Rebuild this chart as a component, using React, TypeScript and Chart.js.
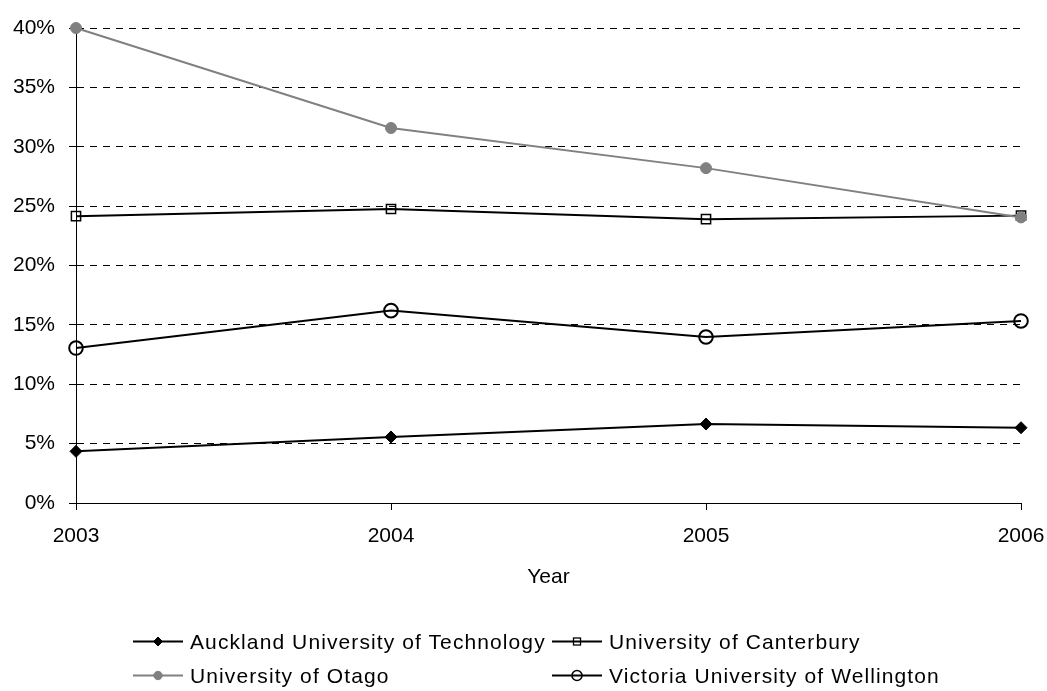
import React, { useEffect, useRef } from 'react';
import { Chart, registerables } from 'chart.js';

Chart.register(...registerables);

const years = ['2003', '2004', '2005', '2006'];
const seriesNames = [
  'Auckland University of Technology',
  'University of Canterbury',
  'University of Otago',
  'Victoria University of Wellington',
];
const aut = [4.35, 5.56, 6.65, 6.34];
const canterbury = [24.15, 24.76, 23.9, 24.2];
const otago = [40, 31.58, 28.2, 24.05];
const victoria = [13.05, 16.2, 13.98, 15.33];
const yMin = 0;
const yMax = 40;
const yStep = 5;
const xTitle = 'Year';

const FONT = '"Liberation Sans", Arial, sans-serif';
const NONE = 'rgba(0,0,0,0)';

type Style = { color: string; point: string; radius: number; fill: string; border: number; order: number };
const styles: Style[] = [
  { color: '#000000', point: 'rectRot', radius: 6, fill: '#000000', border: 1, order: 0 },
  { color: '#000000', point: 'rect', radius: 6.5, fill: NONE, border: 1.5, order: 2 },
  { color: '#808080', point: 'circle', radius: 5.5, fill: '#808080', border: 1, order: 1 },
  { color: '#000000', point: 'circle', radius: 6.8, fill: NONE, border: 2, order: 3 },
];
const seriesData = [aut, canterbury, otago, victoria];

const legendPos = [
  { left: 133, top: 629 },
  { left: 552, top: 629 },
  { left: 133, top: 663 },
  { left: 552, top: 663 },
];

function Marker({ s }: { s: Style }) {
  const cx = 25;
  const cy = 12.5;
  let shape: React.ReactNode = null;
  if (s.point === 'rectRot') {
    const r = 4.5;
    shape = <polygon points={`${cx - r},${cy} ${cx},${cy - r} ${cx + r},${cy} ${cx},${cy + r}`} fill={s.fill} stroke={s.color} strokeWidth={1} />;
  } else if (s.point === 'rect') {
    shape = <rect x={cx - 3.5} y={cy - 3.5} width={7} height={7} fill="none" stroke={s.color} strokeWidth={1.3} />;
  } else if (s.fill === NONE) {
    shape = <circle cx={cx} cy={cy} r={5} fill="none" stroke={s.color} strokeWidth={1.5} />;
  } else {
    shape = <circle cx={cx} cy={cy} r={4.2} fill={s.fill} stroke={s.color} strokeWidth={1} />;
  }
  return (
    <svg width={50} height={25} style={{ display: 'block' }}>
      <line x1={0} y1={cy} x2={50} y2={cy} stroke={s.color} strokeWidth={2} />
      {shape}
    </svg>
  );
}

export default function App() {
  const ref = useRef<HTMLCanvasElement | null>(null);
  useEffect(() => {
    document.body.style.margin = '0';
    const canvas = ref.current;
    if (!canvas) return;
    const chart = new Chart(canvas, {
      type: 'line',
      data: {
        labels: years,
        datasets: seriesNames.map((name, i) => ({
          label: name,
          data: seriesData[i],
          order: styles[i].order,
          borderColor: styles[i].color,
          backgroundColor: styles[i].fill,
          borderWidth: 2,
          pointStyle: styles[i].point as any,
          pointRadius: styles[i].radius,
          pointBackgroundColor: styles[i].fill,
          pointBorderColor: styles[i].color,
          pointBorderWidth: styles[i].border,
          tension: 0,
          fill: false,
          clip: false as any,
        })),
      },
      options: {
        animation: false,
        responsive: false,
        maintainAspectRatio: false,
        events: [],
        layout: { padding: { top: 28, right: 0, bottom: 88, left: 0 } },
        plugins: { legend: { display: false }, tooltip: { enabled: false }, title: { display: false } },
        scales: {
          x: {
            type: 'category',
            offset: false,
            grid: { drawOnChartArea: false, drawTicks: true, tickLength: 7, color: '#000', lineWidth: 1 },
            border: { display: true, color: '#000', width: 1 },
            ticks: { color: '#000', font: { family: FONT, size: 21 }, padding: 14, maxRotation: 0, autoSkip: false },
            title: { display: true, text: xTitle, color: '#000', font: { family: FONT, size: 21 }, padding: { top: 0, bottom: 13 } },
            afterFit: (scale: any) => {
              scale.height = 100;
              scale.paddingRight = 26;
              scale.paddingLeft = 24;
            },
          },
          y: {
            min: yMin,
            max: yMax,
            grid: { color: '#000', lineWidth: 1, tickLength: 7, drawTicks: true, tickBorderDash: [] },
            border: { display: true, color: '#000', width: 1, dash: [7, 6] },
            ticks: {
              stepSize: yStep,
              color: '#000',
              font: { family: FONT, size: 21 },
              padding: 14,
              callback: (v: any) => `${v}%`,
            },
            afterFit: (scale: any) => { scale.width = 76; },
          },
        },
      },
    });
    return () => chart.destroy();
  }, []);

  return (
    <div style={{ position: 'relative', width: 1047, height: 691, background: '#fff', fontFamily: FONT }}>
      <canvas ref={ref} width={1047} height={691} style={{ position: 'absolute', left: 0, top: 0, width: 1047, height: 691 }} />
      {seriesNames.map((name, i) => (
        <div
          key={name}
          style={{
            position: 'absolute',
            left: legendPos[i].left,
            top: legendPos[i].top,
            display: 'flex',
            alignItems: 'center',
            height: 25,
            whiteSpace: 'nowrap',
          }}
        >
          <Marker s={styles[i]} />
          <span style={{ marginLeft: 7, fontSize: 21, lineHeight: '25px', letterSpacing: '1.1px', color: '#000' }}>{name}</span>
        </div>
      ))}
    </div>
  );
}
